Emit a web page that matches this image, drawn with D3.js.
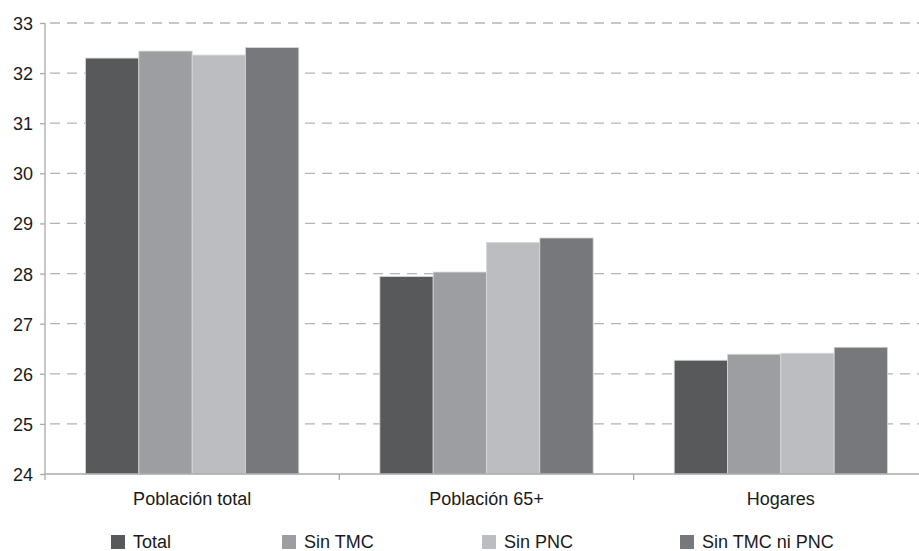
<!DOCTYPE html>
<html><head><meta charset="utf-8">
<script src="https://cdn.jsdelivr.net/npm/d3@7"></script>
<style>body{margin:0;background:#fff}svg{display:block}text{font-family:"Liberation Sans",Arial,sans-serif;fill:#1a1a1a}</style>
</head><body><svg id="c" width="919" height="551"></svg>
<script>
const categories = ["Población total", "Población 65+", "Hogares"];
const seriesNames = ["Total", "Sin TMC", "Sin PNC", "Sin TMC ni PNC"];
const total = [32.30, 27.94, 26.27];
const sinTMC = [32.44, 28.03, 26.39];
const sinPNC = [32.36, 28.62, 26.41];
const sinTMCniPNC = [32.51, 28.71, 26.53];
const yTicks = [24, 25, 26, 27, 28, 29, 30, 31, 32, 33];
const colors = ["#58595b", "#9d9ea1", "#bcbdc0", "#77787b"];

const series = [total, sinTMC, sinPNC, sinTMCniPNC];
const svg = d3.select("#c");
const x0 = 45, x1 = 928, yTop = 23, yBot = 474;
const x = d3.scaleBand().domain(categories).range([x0, x1]).paddingInner(0).paddingOuter(0);
const xs = d3.scaleBand().domain(seriesNames).range([0, x.bandwidth()]).paddingOuter(0.76).paddingInner(0);
const y = d3.scaleLinear().domain([24, 33]).range([yBot, yTop]);

// gridlines
svg.append("g").selectAll("line").data(yTicks.filter(t => t > 24)).join("line")
  .attr("x1", x0).attr("x2", 919).attr("y1", d => y(d)).attr("y2", d => y(d))
  .attr("stroke", "#b4b4b4").attr("stroke-width", 1.3).attr("stroke-dasharray", "10,7")
  .attr("stroke-dashoffset", -5);

// bars
const g = svg.append("g");
categories.forEach((c, ci) => {
  seriesNames.forEach((s, si) => {
    const v = series[si][ci];
    g.append("rect")
      .attr("x", x(c) + xs(s)).attr("width", xs.bandwidth())
      .attr("y", y(v)).attr("height", y(24) - y(v))
      .attr("fill", colors[si]).attr("stroke", "#d8d8d8").attr("stroke-width", 0.8);
  });
});

// y axis
const yAxis = d3.axisLeft(y).tickValues(yTicks).tickSize(5).tickPadding(7).tickFormat(d3.format("d"));
const ya = svg.append("g").attr("transform", `translate(${x0},0)`).call(yAxis);
ya.select(".domain").remove();
ya.selectAll(".tick line").attr("stroke", "#aaa").attr("stroke-width", 1.3);
ya.selectAll(".tick text").style("font-size", "18px").attr("fill", "#1a1a1a").attr("dy", "0.36em");
svg.append("line").attr("x1", x0).attr("x2", x0).attr("y1", yTop).attr("y2", yBot + 6)
  .attr("stroke", "#aaa").attr("stroke-width", 1.3);

// x axis
const xAxis = d3.axisBottom(x).tickSize(0).tickPadding(18);
const xa = svg.append("g").attr("transform", `translate(0,${yBot})`).call(xAxis);
xa.select(".domain").remove();
xa.selectAll(".tick text").style("font-size", "18px").attr("fill", "#1a1a1a");
svg.append("line").attr("x1", x0).attr("x2", 919).attr("y1", yBot).attr("y2", yBot)
  .attr("stroke", "#aaa").attr("stroke-width", 1.3);
svg.append("g").selectAll("line").data(categories.slice(1)).join("line")
  .attr("x1", d => x(d)).attr("x2", d => x(d)).attr("y1", yBot).attr("y2", yBot + 6)
  .attr("stroke", "#aaa").attr("stroke-width", 1.3);

// legend
const legendX = [111, 282, 482, 680];
const lg = svg.append("g");
seriesNames.forEach((s, i) => {
  lg.append("rect").attr("x", legendX[i]).attr("y", 535).attr("width", 14).attr("height", 14).attr("fill", colors[i]);
  lg.append("text").attr("x", legendX[i] + 22).attr("y", 548).style("font-size", "18px").text(s);
});
</script></body></html>
